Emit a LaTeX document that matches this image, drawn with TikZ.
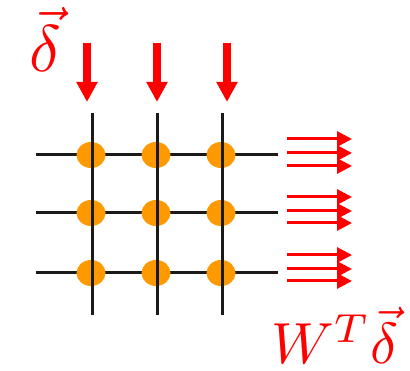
\documentclass[tikz,border=0pt]{standalone}
\usetikzlibrary{arrows.meta,shapes.geometric}
\definecolor{dotorange}{RGB}{255,153,0}
\definecolor{gridblack}{RGB}{26,26,26}
\tikzset{
  gridline/.style={draw=gridblack,line width=3pt},
  dotnode/.style={ellipse,fill=dotorange,minimum width=29pt,minimum height=26pt,inner sep=0pt},
  bigarrow/.style={draw=red,line width=8pt,-{Triangle[width=20pt,length=20pt]}},
  smallarrow/.style={draw=red,line width=3pt,-{Triangle[width=15pt,length=15pt]}},
  labeltext/.style={text=red,inner sep=0pt}
}
\begin{document}
\begin{tikzpicture}[x=1pt,y=-1pt]
\useasboundingbox (0,0) rectangle (410,371);
% grid end points
\foreach \r/\y in {1/155,2/213,3/273}{
  \coordinate (h\r l) at (36,\y);
  \coordinate (h\r r) at (278,\y);
}
\foreach \c/\x in {1/92,2/157,3/222}{
  \coordinate (v\c t) at (\x,113);
  \coordinate (v\c b) at (\x,315);
}
% horizontal lines
\foreach \r in {1,2,3}{ \draw[gridline] (h\r l) -- (h\r r); }
% dots
\foreach \r/\y in {1/155,2/213,3/273}{
  \foreach \c/\x in {1/92,2/157,3/222}{
    \node[dotnode] (d\r\c) at (\x-1,\y) {};
  }
}
% vertical lines
\foreach \c in {1,2,3}{ \draw[gridline] (v\c t) -- (v\c b); }
% top arrows
\foreach \c/\x in {1/87,2/157,3/227}{
  \coordinate (ta\c s) at (\x,43);
  \coordinate (ta\c e) at (\x,102);
  \draw[bigarrow] (ta\c s) -- (ta\c e);
}
% right arrows
\foreach \i/\y in {1/139,2/153,3/166,4/197,5/211,6/223,7/255,8/269,9/281}{
  \coordinate (ra\i s) at (287,\y);
  \coordinate (ra\i e) at (352,\y);
  \draw[smallarrow] (ra\i s) -- (ra\i e);
}
% labels
\node[labeltext,anchor=base,scale=6.6] (delta) at (45,72) {$\vec{\delta}$};
\node[labeltext,anchor=base west,scale=5.8] (wtd) at (270,364) {$W^{T}\vec{\delta}$};
\end{tikzpicture}
\end{document}
